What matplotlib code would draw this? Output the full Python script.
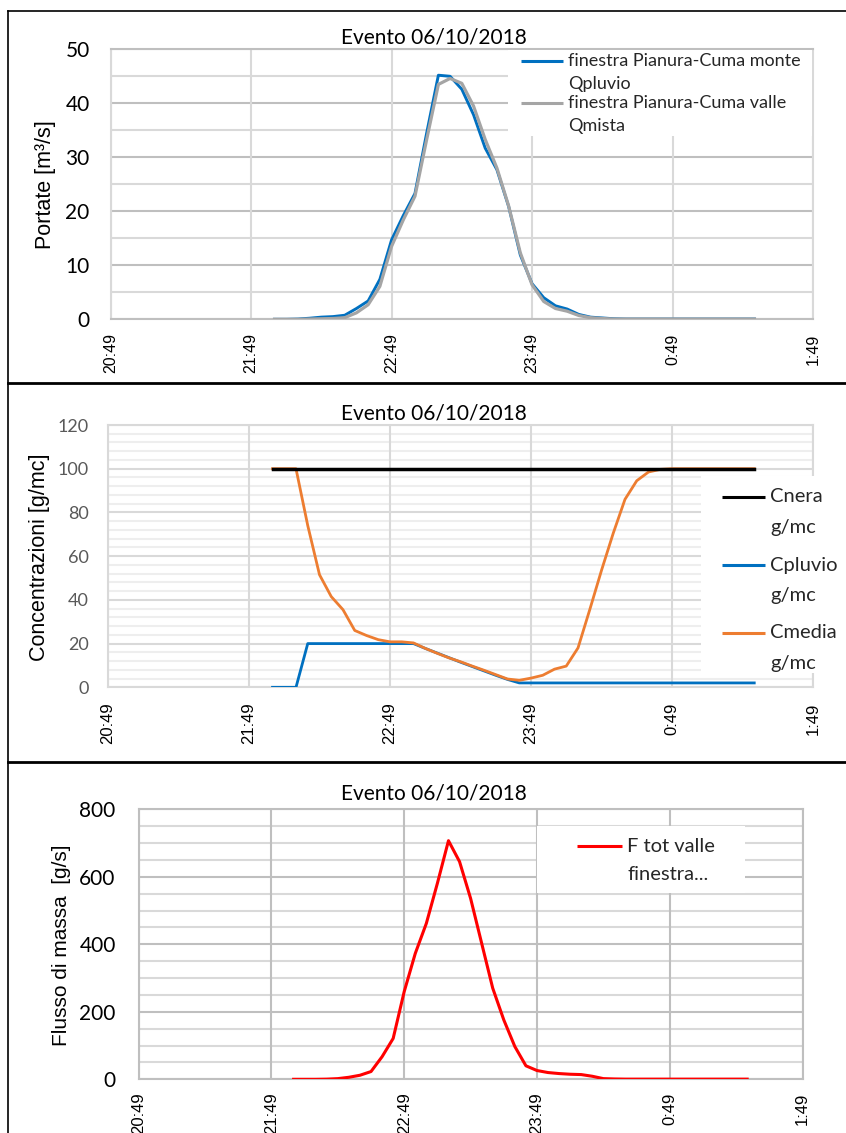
import matplotlib
matplotlib.use("Agg")
import matplotlib.pyplot as plt
from matplotlib.patches import Rectangle
from matplotlib.lines import Line2D
from matplotlib.ticker import MultipleLocator
from matplotlib import font_manager
import numpy as np

# ---------------- data ----------------
time_labels = ["21:59", "22:04", "22:09", "22:14", "22:19", "22:24", "22:29", "22:34",
               "22:39", "22:44", "22:49", "22:54", "22:59", "23:04", "23:09", "23:14",
               "23:19", "23:24", "23:29", "23:34", "23:39", "23:44", "23:49", "23:54",
               "23:59", "0:04", "0:09", "0:14", "0:19", "0:24", "0:29", "0:34",
               "0:39", "0:44", "0:49", "0:54", "0:59", "1:04", "1:09", "1:14",
               "1:19", "1:24"]
tick_labels = ["20:49", "21:49", "22:49", "23:49", "0:49", "1:49"]

q_pluvio = [0, 0, 0.05, 0.2, 0.4, 0.5, 0.75, 2.0, 3.4, 7.4, 14.7, 19.2, 23.3, 34.5,
            45.2, 45.0, 42.6, 37.9, 31.7, 27.7, 20.9, 11.9, 6.6, 4.0, 2.5, 1.9, 0.9,
            0.4, 0.25, 0.1, 0.05, 0.05, 0.05, 0.05, 0.05, 0.05, 0.05, 0.05, 0.05,
            0.05, 0.05, 0.05]
q_mista = [0, 0, 0, 0.05, 0.1, 0.15, 0.3, 1.2, 2.7, 6.1, 13.5, 18.4, 22.8, 33.3,
           43.5, 44.6, 43.7, 39.5, 33.3, 28.0, 21.0, 12.3, 6.4, 3.3, 2.0, 1.5, 0.7,
           0.3, 0.15, 0.05, 0.05, 0.05, 0.05, 0.05, 0.05, 0.05, 0.05, 0.05, 0.05,
           0.05, 0.05, 0.05]

c_nera = [100] * 42
c_pluvio = [0, 0, 0, 20, 20, 20, 20, 20, 20, 20, 20, 20, 20, 17.8, 15.7, 13.6, 11.5,
            9.5, 7.5, 5.5, 3.6, 2.0, 2.0, 2.0, 2.0, 2.0, 2.0, 2.0, 2.0, 2.0, 2.0,
            2.0, 2.0, 2.0, 2.0, 2.0, 2.0, 2.0, 2.0, 2.0, 2.0, 2.0]
c_media = [100, 100, 100, 74, 51.5, 41.5, 35.5, 26, 23.7, 21.8, 20.8, 20.8, 20.3,
           17.8, 15.6, 13.5, 11.7, 9.7, 7.8, 5.8, 3.8, 3.2, 4.2, 5.5, 8.3, 9.7, 18,
           35.5, 53.5, 70.5, 86, 94.5, 98.5, 99.7, 100, 100, 100, 100, 100, 100,
           100, 100]

f_tot = [0, 0, 0, 0.5, 2, 6, 12, 23, 67, 121, 260, 373, 462, 581, 707, 645, 536, 403,
         270, 176, 97, 40, 26, 20, 17, 15, 14, 9, 2, 1, 0.5, 0.5, 0.5, 0.5, 0.5, 0.5,
         0.5, 0.5, 0.5, 0.5, 0.5, 0.5]

title_text = "Evento 06/10/2018"

# ---------------- helpers ----------------
W, H = 846, 1133
names = {f.name for f in font_manager.fontManager.ttflist}
CAL = "Lato" if "Lato" in names else "DejaVu Sans"
ARI = "Liberation Sans" if "Liberation Sans" in names else "DejaVu Sans"


def to_min(s):
    h, m = map(int, s.split(":"))
    t = h * 60 + m
    if h < 12:
        t += 24 * 60
    return t - (20 * 60 + 49)


x = np.array([to_min(s) for s in time_labels])
xt = [to_min(s) for s in tick_labels]

fig = plt.figure(figsize=(W / 100, H / 100), dpi=100)


def fx(px):
    return px / W


def fy(py):
    return 1 - py / H


def add_ax(l, t, r, b):
    return fig.add_axes([fx(l), fy(b), (r - l) / W, (b - t) / H])


def style(ax, ymax, major, minor, c_major, c_minor, c_vert, tcol, tsize, ypad, xsize, xpad):
    ax.set_xlim(0, 300)
    ax.set_ylim(0, ymax)
    ax.set_axisbelow(True)
    ax.yaxis.set_major_locator(MultipleLocator(major))
    ax.yaxis.set_minor_locator(MultipleLocator(minor))
    ax.set_xticks(xt)
    ax.set_xticklabels(tick_labels, rotation=90, fontsize=xsize, family=ARI, color="#000000")
    ax.grid(which="major", axis="y", color=c_major, lw=1.5)
    ax.grid(which="minor", axis="y", color=c_minor, lw=1.5)
    ax.grid(which="major", axis="x", color=c_vert, lw=1.5)
    ax.xaxis.set_zorder(0.7)
    ax.tick_params(axis="both", which="both", length=0)
    ax.tick_params(axis="y", pad=ypad / 1.389, labelsize=tsize, labelcolor=tcol)
    ax.tick_params(axis="x", pad=xpad / 1.389)
    for lab in ax.get_yticklabels():
        lab.set_family(CAL)
    ax.spines["left"].set_color(c_vert)
    ax.spines["right"].set_color(c_vert)
    ax.spines["top"].set_color(c_major)
    ax.spines["bottom"].set_color(c_major)
    for s in ax.spines.values():
        s.set_linewidth(1.5)


def legend_box(ax, l, t, r, b):
    ax.add_patch(Rectangle((fx(l), fy(b)), (r - l) / W, (b - t) / H, transform=fig.transFigure,
                           facecolor="white", edgecolor="none", clip_on=False, zorder=2.7))


def legend_entry(ax, x0, x1, y, color, lines, dy, size):
    ax.add_line(Line2D([fx(x0), fx(x1)], [fy(y), fy(y)], transform=fig.transFigure,
                       color=color, lw=2.2, clip_on=False, zorder=4, solid_capstyle="butt"))
    for i, s in enumerate(lines):
        ax.text(fx(x1 + 5), fy(y + i * dy), s, transform=fig.transFigure, ha="left",
                va="center", fontsize=size, family=CAL, color="#262626", zorder=5,
                clip_on=False)


def ylabel(px, py, s, size):
    fig.text(fx(px), fy(py), s, rotation=90, ha="center", va="center", fontsize=size,
             family=ARI, color="#000000")


# ---------------- panel 1 ----------------
ax1 = add_ax(110.6, 49.3, 813, 319.3)
style(ax1, 50, 10, 5, "#BFBFBF", "#D9D9D9", "#D9D9D9", "#000000", 15, 21, 11.5, 14)
ax1.plot(x, q_pluvio, color="#0070C0", lw=2.1, zorder=3, solid_joinstyle="round")
ax1.plot(x, q_mista, color="#A5A5A5", lw=2.3, zorder=3.1, solid_joinstyle="round")
legend_box(ax1, 508, 50, 812, 136)
legend_entry(ax1, 521, 563, 61, "#0070C0", ["finestra Pianura-Cuma monte", "Qpluvio"], 23.5, 13)
legend_entry(ax1, 521, 563, 103, "#A5A5A5", ["finestra Pianura-Cuma valle", "Qmista"], 23.5, 13)
fig.text(fx(434), fy(37), title_text, ha="center", va="center", fontsize=15, family=CAL)
ylabel(45, 185, "Portate [m³/s]", 15.5)

# ---------------- panel 2 ----------------
ax2 = add_ax(108, 425, 813, 687.3)
style(ax2, 120, 20, 4, "#D9D9D9", "#EEEEEE", "#D9D9D9", "#595959", 13, 19, 12, 15)
ax2.plot(x, c_pluvio, color="#0070C0", lw=2.0, zorder=3, solid_joinstyle="round")
ax2.plot(x, c_media, color="#ED7D31", lw=2.0, zorder=3.1, solid_joinstyle="round")
ax2.plot(x, c_nera, color="#000000", lw=2.5, zorder=3.2)
legend_box(ax2, 701, 476, 846, 673)
legend_entry(ax2, 722, 765, 497, "#000000", ["Cnera", "g/mc"], 30, 14.5)
legend_entry(ax2, 722, 765, 565, "#0070C0", ["Cpluvio", "g/mc"], 30, 14.5)
legend_entry(ax2, 722, 765, 633, "#ED7D31", ["Cmedia", "g/mc"], 30, 14.5)
fig.text(fx(434), fy(413), title_text, ha="center", va="center", fontsize=15, family=CAL)
ylabel(40, 557, "Concentrazioni [g/mc]", 15.5)

# ---------------- panel 3 ----------------
ax3 = add_ax(138.7, 809.3, 802.5, 1079.3)
style(ax3, 800, 200, 50, "#BFBFBF", "#D9D9D9", "#BFBFBF", "#000000", 15, 23, 12, 13)
ax3.plot(x, f_tot, color="#FF0000", lw=2.2, zorder=3, solid_joinstyle="round")
legend_box(ax3, 537, 826, 745, 893)
legend_entry(ax3, 577, 622, 846, "#FF0000", ["F tot valle", "finestra..."], 29, 14.5)
fig.text(fx(434), fy(793), title_text, ha="center", va="center", fontsize=15, family=CAL)
ylabel(61, 945, "Flusso di massa  [g/s]", 15)

# ---------------- panel frames ----------------
for (x0, y0, x1, y1, lw) in [(8, 11, 846, 11, 1.2), (8, 11, 8, 1133, 1.2),
                             (8, 383, 846, 383, 2.0), (8, 762, 846, 762, 2.0)]:
    fig.add_artist(Line2D([fx(x0), fx(x1)], [fy(y0), fy(y1)], transform=fig.transFigure,
                          color="#000000", lw=lw))

fig.savefig("out.png", dpi=100)
